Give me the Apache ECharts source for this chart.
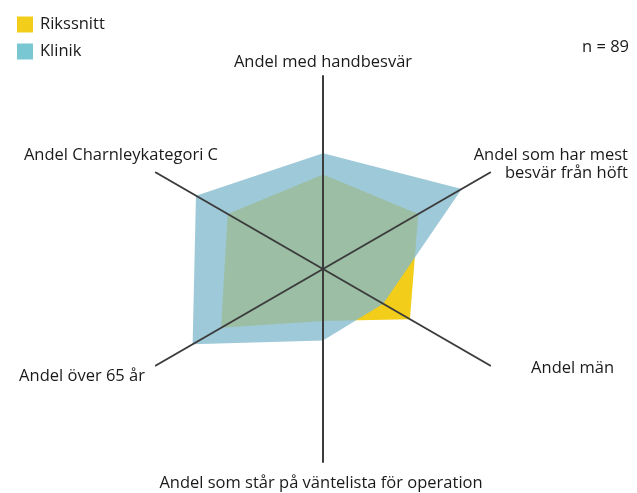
<!DOCTYPE html>
<html>
<head>
<meta charset="utf-8">
<script src="https://cdn.jsdelivr.net/npm/echarts@6/dist/echarts.min.js"></script>
<style>
  html, body { margin: 0; padding: 0; background: #fff; }
  #chart { width: 637px; height: 493px; }
</style>
</head>
<body>
<div id="chart"></div>
<script>
// axes, counter-clockwise from the top
const names = [
  'Andel med handbesvär',
  'Andel Charnleykategori C',
  'Andel över 65 år',
  'Andel som står på väntelista för operation',
  'Andel män',
  'Andel som har mest\nbesvär från höft'
]
const riks = [49, 57, 61, 27, 52, 57]
const klinik = [60, 76, 78, 37, 36, 83]
const seriesNames = ['Rikssnitt', 'Klinik']
const nText = 'n = 89'

// where each axis name sits: [x, y, align]
const namePos = [
  [323, 62, 'center'],
  [218, 155, 'right'],
  [145, 376, 'right'],
  [321, 483, 'center'],
  [614, 368, 'right'],
  [628, 164, 'right']
]

const font = '16.5px "Open Sans", sans-serif'

let chart = echarts.init(document.getElementById('chart'))
chart.setOption({
  animation: false,
  legend: {
    orient: 'vertical',
    left: 17,
    top: 16,
    padding: 0,
    itemWidth: 16,
    itemHeight: 16,
    itemGap: 10,
    icon: 'rect',
    textStyle: { fontSize: 16.5, color: '#1a1a1a', fontFamily: 'Open Sans', padding: [0, 0, 0, 2] },
    data: [
      { name: seriesNames[0], itemStyle: { color: '#f2cd1a' } },
      { name: seriesNames[1], itemStyle: { color: '#79c7d3' } }
    ]
  },
  radar: {
    z: 10,
    center: [323, 269],
    radius: 193,
    startAngle: 90,
    shape: 'polygon',
    indicator: names.map(n => ({ name: n, min: 0, max: 100 })),
    axisName: { show: false },
    axisLine: { lineStyle: { color: '#3c3c3c', width: 2 } },
    splitLine: { show: false },
    splitArea: { show: false },
    axisTick: { show: false },
    axisLabel: { show: false }
  },
  graphic: names.map((n, i) => ({
    type: 'text',
    x: namePos[i][0],
    y: namePos[i][1],
    style: {
      text: n,
      font: font,
      fill: '#1a1a1a',
      align: namePos[i][2],
      textAlign: namePos[i][2],
      verticalAlign: 'middle',
      textVerticalAlign: 'middle',
      lineHeight: 18
    }
  })).concat([{
    type: 'text',
    x: 629,
    y: 47,
    style: {
      text: nText, font: font, fill: '#1a1a1a',
      align: 'right', textAlign: 'right',
      verticalAlign: 'middle', textVerticalAlign: 'middle'
    }
  }]),
  series: [
    {
      type: 'radar',
      symbol: 'none',
      lineStyle: { width: 0 },
      data: [
        {
          name: seriesNames[0],
          value: riks,
          itemStyle: { color: '#f2cd1a' },
          areaStyle: { color: '#f2cd1a', opacity: 1 }
        },
        {
          name: seriesNames[1],
          value: klinik,
          itemStyle: { color: '#79c7d3' },
          areaStyle: { color: 'rgb(131,186,205)', opacity: 0.78 }
        }
      ]
    }
  ]
})
</script>
</body>
</html>
